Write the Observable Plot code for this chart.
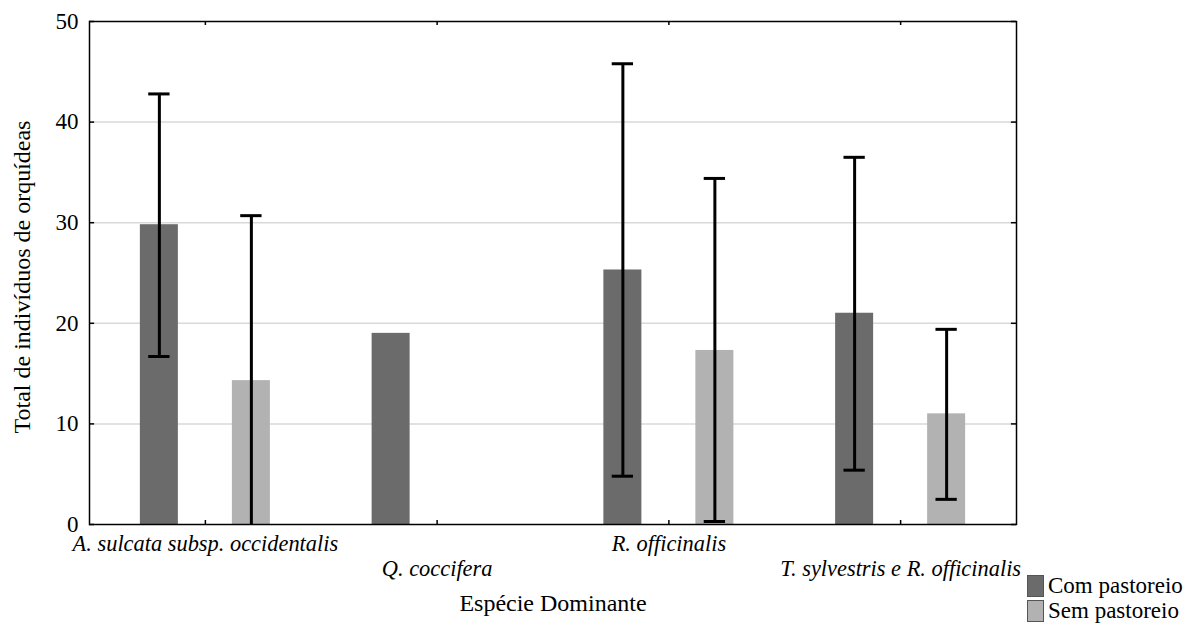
<!DOCTYPE html>
<html>
<head>
<meta charset="utf-8">
<script src="https://cdn.jsdelivr.net/npm/d3@7"></script>
<script src="https://cdn.jsdelivr.net/npm/@observablehq/plot@0.6"></script>
<style>
  html, body { margin: 0; padding: 0; background: #fff; }
  #wrap { position: relative; width: 1192px; height: 624px; }
  #legend { position: absolute; left: 1027px; top: 573px; font-family: "Liberation Serif", serif; font-size: 23px; color: #000; }
  .item { display: flex; align-items: center; height: 25px; }
  .sw { width: 17px; height: 22px; margin-right: 4px; border: 1px solid #555; box-sizing: border-box; }
</style>
</head>
<body>
<div id="wrap">
  <div id="chart"></div>
  <div id="legend"></div>
</div>
<script>
// ---- data ----
const categories = ["A. sulcata subsp. occidentalis", "Q. coccifera", "R. officinalis", "T. sylvestris e R. officinalis"];
const series = ["Com pastoreio", "Sem pastoreio"];
const colors = ["#6b6b6b", "#b2b2b2"];
const comMean = [29.8, 19.0, 25.3, 21.0];
const comLow  = [16.7, null, 4.8, 5.4];
const comHigh = [42.8, null, 45.8, 36.5];
const semMean = [14.3, null, 17.3, 11.0];
const semLow  = [-2.1, null, 0.3, 2.5];
const semHigh = [30.7, null, 34.4, 19.4];
const yTicks = [0, 10, 20, 30, 40, 50];
const gridTicks = [10, 20, 30, 40];

// ---- layout helpers (scale units) ----
const off = 0.1985, halfBar = 0.082, halfCap = 0.046;
const rows = [];
categories.forEach((c, i) => {
  const ctr = i + 0.5;
  if (comMean[i] != null) rows.push({cat: c, s: series[0], pos: ctr - off, v: comMean[i], lo: comLow[i], hi: comHigh[i]});
  if (semMean[i] != null) rows.push({cat: c, s: series[1], pos: ctr + off, v: semMean[i], lo: semLow[i], hi: semHigh[i]});
});
const err = rows.filter(d => d.lo != null);
const caps = err.flatMap(d => [{pos: d.pos, y: d.lo}, {pos: d.pos, y: d.hi}]);
const labels = categories.map((c, i) => ({c, pos: i + 0.5, row: i % 2}));
const centers = labels.map(d => d.pos);
const FONT = "Liberation Serif";

const chart = Plot.plot({
  width: 1192,
  height: 624,
  marginLeft: 89,
  marginRight: 176,
  marginTop: 21,
  marginBottom: 100,
  style: "font-family: 'Liberation Serif', serif; font-size: 23px; color: #000; background: #fff; overflow: visible;",
  x: {domain: [0, 4], axis: null},
  y: {domain: [0, 50], ticks: yTicks, tickSize: 0, tickPadding: 11, label: null},
  color: {domain: series, range: colors},
  marks: [
    Plot.ruleY(gridTicks, {stroke: "#d9d9d9", strokeWidth: 1.5}),
    Plot.rect(rows, {x1: d => d.pos - halfBar, x2: d => d.pos + halfBar, y1: 0, y2: "v", fill: "s"}),
    Plot.ruleX(err, {x: "pos", y1: "lo", y2: "hi", stroke: "#000", strokeWidth: 3, clip: true}),
    Plot.ruleY(caps, {y: "y", x1: d => d.pos - halfCap, x2: d => d.pos + halfCap, stroke: "#000", strokeWidth: 3, clip: true}),
    // inward ticks
    Plot.ruleY(yTicks, {x1: 0, x2: 0.022, stroke: "#000", strokeWidth: 1.5}),
    Plot.ruleY(yTicks, {x1: 3.978, x2: 4, stroke: "#000", strokeWidth: 1.5}),
    Plot.ruleX(centers, {y1: 0, y2: 0.4, stroke: "#000", strokeWidth: 1.5}),
    Plot.ruleX(centers, {y1: 49.6, y2: 50, stroke: "#000", strokeWidth: 1.5}),
    Plot.frame({stroke: "#000", strokeWidth: 1.5}),
    Plot.text(labels, {x: "pos", text: "c", frameAnchor: "bottom", fontFamily: FONT, fontStyle: "italic", fontSize: 22.4, filter: d => d.row === 0, dy: 26}),
    Plot.text(labels, {x: "pos", text: "c", frameAnchor: "bottom", fontFamily: FONT, fontStyle: "italic", fontSize: 22.4, filter: d => d.row === 1, dy: 51}),
    Plot.text(["Espécie Dominante"], {frameAnchor: "bottom", dy: 86, fontFamily: FONT, fontSize: 24}),
    Plot.text(["Total de indivíduos de orquídeas"], {frameAnchor: "left", textAnchor: "middle", rotate: -90, dx: -67, dy: 4, fontFamily: FONT, fontSize: 24})
  ]
});
document.getElementById("chart").appendChild(chart);

const lg = document.getElementById("legend");
series.forEach((s, i) => {
  const it = document.createElement("div");
  it.className = "item";
  it.innerHTML = `<span class="sw" style="background:${colors[i]}"></span><span>${s}</span>`;
  lg.appendChild(it);
});
</script>
</body>
</html>
